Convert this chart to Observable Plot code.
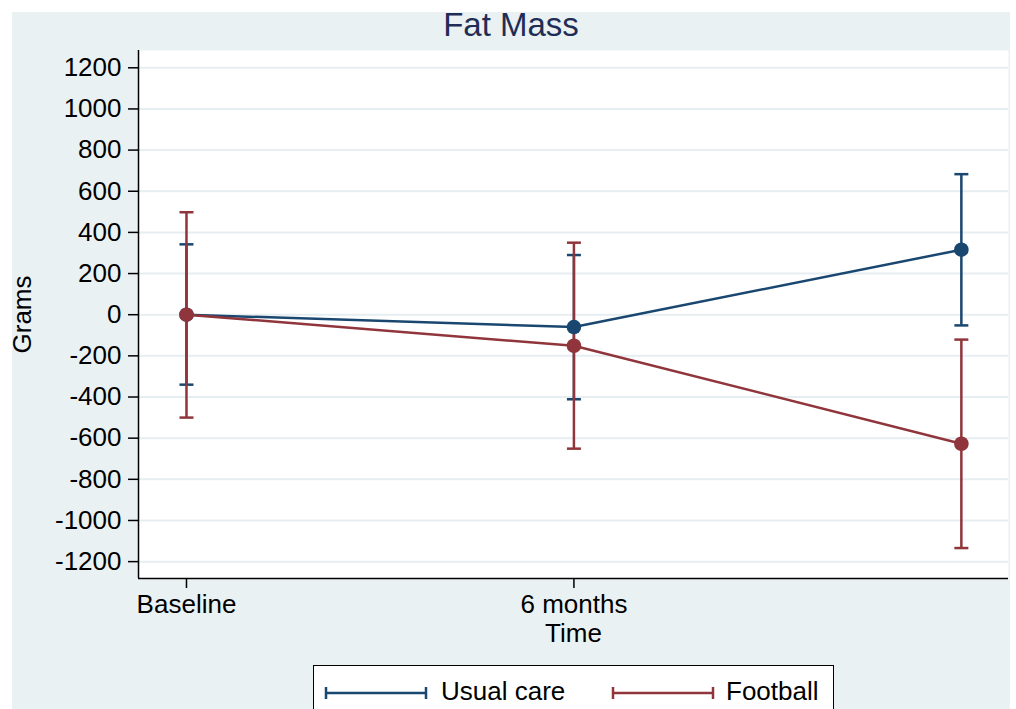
<!DOCTYPE html>
<html>
<head>
<meta charset="utf-8">
<script src="https://cdn.jsdelivr.net/npm/d3@7"></script>
<script src="https://cdn.jsdelivr.net/npm/@observablehq/plot@0.6"></script>
<style>
  html, body { margin: 0; padding: 0; background: #ffffff; width: 1016px; height: 709px; overflow: hidden; }
  body { font-family: "Liberation Sans", Arial, sans-serif; position: relative; }
  #panel { position: absolute; left: 12px; top: 12px; width: 998px; height: 720px; background: #eaf1f3; }
  #title { position: absolute; left: 0; top: -6px; width: 998px; height: 38px; line-height: 38px; text-align: center; font-size: 33px; color: #1f2d56; }
  #chart { position: absolute; left: 0; top: 38px; }
  #legend { position: absolute; left: 301px; top: 653px; width: 521px; height: 80px; background: #fff; border: 1.5px solid #000; box-sizing: border-box; }
  .sym { position: absolute; top: 20px; }
  .lab { position: absolute; top: 10px; font-size: 26px; color: #000; white-space: nowrap; }
</style>
</head>
<body>
<div id="panel">
  <div id="title">Fat Mass</div>
  <div id="chart"></div>
  <div id="legend"></div>
</div>
<script>
// ---- data ----
const times = [0, 6, 12];
const xTickValues = [0, 6];
const xTickLabels = ["Baseline", "6 months"];
const yTicks = [-1200, -1000, -800, -600, -400, -200, 0, 200, 400, 600, 800, 1000, 1200];
const seriesNames = ["Usual care", "Football"];
const seriesColors = ["#1a476f", "#90353b"];
const usualMean = [0, -60, 316];
const usualLow = [-340, -411, -52];
const usualHigh = [342, 290, 683];
const footballMean = [0, -151, -627];
const footballLow = [-500, -651, -1134];
const footballHigh = [498, 350, -121];

const build = (mean, low, high) => times.map((t, i) => ({t, mean: mean[i], low: low[i], high: high[i]}));
const usual = build(usualMean, usualLow, usualHigh);
const football = build(footballMean, footballLow, footballHigh);

const capSymbol = {
  draw(ctx) { ctx.moveTo(-7, 0); ctx.lineTo(7, 0); }
};

const xDomain = [-0.743, 12.73];
const yDomain = [-1282, 1284];

function errorMarks(data, color) {
  return [
    Plot.ruleX(data, {x: "t", y1: "low", y2: "high", stroke: color, strokeWidth: 2.5}),
    Plot.dot(data, {x: "t", y: "low", symbol: capSymbol, stroke: color, strokeWidth: 2.5, fill: "none", r: 5}),
    Plot.dot(data, {x: "t", y: "high", symbol: capSymbol, stroke: color, strokeWidth: 2.5, fill: "none", r: 5})
  ];
}
function seriesMarks(data, color) {
  return [
    Plot.line(data, {x: "t", y: "mean", stroke: color, strokeWidth: 2.5}),
    Plot.dot(data, {x: "t", y: "mean", fill: color, stroke: "none", r: 7.3})
  ];
}

const chart = Plot.plot({
  width: 998,
  height: 615,
  marginLeft: 126,
  marginRight: 2,
  marginTop: 0,
  marginBottom: 87,
  x: {domain: xDomain},
  y: {domain: yDomain},
  style: {fontFamily: '"Liberation Sans", Arial, sans-serif', fontSize: "26px", color: "#000", background: "transparent", overflow: "visible"},
  marks: [
    Plot.frame({fill: "#ffffff", stroke: null}),
    Plot.ruleY(yTicks, {stroke: "#e6eef1", strokeWidth: 2}),
    Plot.axisY({ticks: yTicks, tickSize: 10, tickPadding: 7, label: null, tickFormat: d => String(d), fontSize: 26, strokeWidth: 1.5}),
    Plot.axisX({ticks: xTickValues, tickSize: 10, tickPadding: 6, label: null, tickFormat: d => xTickLabels[xTickValues.indexOf(d)], fontSize: 26, strokeWidth: 1.5}),
    Plot.ruleX([xDomain[0]], {stroke: "#000", strokeWidth: 1.5}),
    Plot.ruleY([yDomain[0]], {stroke: "#000", strokeWidth: 1.5}),
    Plot.text(["Time"], {frameAnchor: "bottom", dy: 63, fontSize: 26}),
    Plot.text(["Grams"], {frameAnchor: "left", textAnchor: "middle", rotate: -90, dx: -116, fontSize: 26}),
    ...errorMarks(usual, seriesColors[0]),
    ...errorMarks(football, seriesColors[1]),
    ...seriesMarks(usual, seriesColors[0]),
    ...seriesMarks(football, seriesColors[1])
  ]
});
document.getElementById("chart").appendChild(chart);

// ---- legend ----
const legend = document.getElementById("legend");
const symX = [10, 297];
const labX = [127, 412];
seriesNames.forEach((name, i) => {
  const c = seriesColors[i];
  const s = document.createElementNS("http://www.w3.org/2000/svg", "svg");
  s.setAttribute("class", "sym");
  s.setAttribute("width", "104");
  s.setAttribute("height", "14");
  s.style.left = symX[i] + "px";
  s.innerHTML = `<line x1="2" y1="7" x2="102" y2="7" stroke="${c}" stroke-width="2.5"/>` +
    `<line x1="2" y1="1" x2="2" y2="13" stroke="${c}" stroke-width="2.5"/>` +
    `<line x1="102" y1="1" x2="102" y2="13" stroke="${c}" stroke-width="2.5"/>`;
  legend.appendChild(s);
  const t = document.createElement("div");
  t.className = "lab";
  t.style.left = labX[i] + "px";
  t.textContent = name;
  legend.appendChild(t);
});
</script>
</body>
</html>
